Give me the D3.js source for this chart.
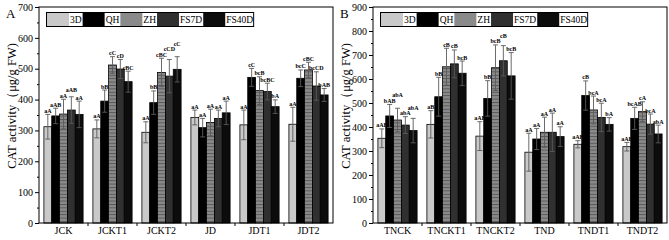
<!DOCTYPE html>
<html>
<head>
<meta charset="utf-8">
<script src="https://cdn.jsdelivr.net/npm/d3@7"></script>
<style>
  body { margin: 0; background: #fff; }
  svg { display: block; font-family: "Liberation Serif", "DejaVu Serif", serif; }
</style>
</head>
<body>
<svg width="669" height="240"></svg>
<script>
// Series names shared by both panels
var series = ['3D', 'QH', 'ZH', 'FS7D', 'FS40D'];
var seriesColor = ['#c9c9c9', '#000000', '#8a8a8a', '#303030', '#0c0c0c'];

// Panel A
var catsA = ['JCK', 'JCKT1', 'JCKT2', 'JD', 'JDT1', 'JDT2'];
var meanA = [
    [312, 347, 353, 366, 352],
    [305, 395, 512, 499, 458],
    [294, 390, 488, 476, 498],
    [342, 309, 326, 339, 357],
    [318, 472, 429, 426, 377],
    [320, 469, 496, 444, 415]
];
var errA = [
    [40, 25, 48, 43, 43],
    [29, 36, 27, 31, 34],
    [34, 38, 46, 54, 41],
    [24, 30, 43, 27, 38],
    [48, 29, 45, 27, 22],
    [55, 27, 25, 46, 21]
];
var sigA = [
    ['aA', 'aAB', 'aA', 'aAB', 'aA'],
    ['aA', 'bB', 'cC', 'cD', 'cBC'],
    ['aA', 'bB', 'cBC', 'cCD', 'cC'],
    ['aA', 'aA', 'aA', 'aA', 'aA'],
    ['aA', 'cC', 'bcB', 'bcBC', 'bA'],
    ['aA', 'bcC', 'cBC', 'bcCD', 'bAB']
];

// Panel B
var catsB = ['TNCK', 'TNCKT1', 'TNCKT2', 'TND', 'TNDT1', 'TNDT2'];
var meanB = [
    [353, 446, 429, 408, 385],
    [411, 526, 651, 663, 624],
    [362, 519, 647, 676, 613],
    [295, 350, 378, 378, 360],
    [328, 531, 471, 440, 411],
    [318, 436, 464, 412, 371]
];
var errB = [
    [39, 48, 49, 35, 51],
    [57, 81, 77, 58, 51],
    [60, 74, 95, 63, 97],
    [79, 44, 63, 80, 41],
    [15, 61, 58, 59, 28],
    [18, 46, 41, 42, 37]
];
var sigB = [
    ['aAB', 'bAB', 'abA', 'abA', 'abA'],
    ['aB', 'bB', 'cB', 'cB', 'bcB'],
    ['aAB', 'bB', 'bcB', 'cB', 'bcB'],
    ['aA', 'aA', 'aA', 'aA', 'aA'],
    ['aAB', 'cB', 'bcA', 'bcA', 'bA'],
    ['aAB', 'bcAB', 'cA', 'bcA', 'abA']
];

var svg = d3.select('svg');
var defs = svg.append('defs');

// horizontal stripe pattern for the ZH bars
var pat = defs.append('pattern')
    .attr('id', 'hatch')
    .attr('patternUnits', 'userSpaceOnUse')
    .attr('width', 8).attr('height', 3.4);
pat.append('rect').attr('width', 8).attr('height', 3.4).attr('fill', '#8a8a8a');
pat.append('line').attr('x1', 0).attr('x2', 8).attr('y1', 0.5).attr('y2', 0.5)
    .attr('stroke', '#4a4a4a').attr('stroke-width', 0.8);

function fillFor(i) {
    return i === 2 ? 'url(#hatch)' : seriesColor[i];
}

function drawPanel(opt) {
    var x0 = opt.left, x1 = opt.right, yTop = 7, yBot = 223;
    var g = svg.append('g');

    var xScale = d3.scaleBand()
        .domain(opt.cats)
        .range([x0, x1])
        .paddingInner(0.2)
        .paddingOuter(0.1);
    var xSub = d3.scaleBand()
        .domain(series)
        .range([0, xScale.bandwidth()]);
    var yScale = d3.scaleLinear()
        .domain([0, opt.max])
        .range([yBot, yTop]);

    // bars
    var groups = g.selectAll('.grp')
        .data(opt.cats)
        .enter().append('g')
        .attr('class', 'grp')
        .attr('transform', function(d) { return 'translate(' + xScale(d) + ',0)'; });

    groups.each(function(cat, ci) {
        var gg = d3.select(this);
        var rows = series.map(function(s, si) {
            return {s: s, si: si, v: opt.mean[ci][si], e: opt.err[ci][si], lab: opt.sig[ci][si]};
        });
        gg.selectAll('rect')
            .data(rows)
            .enter().append('rect')
            .attr('x', function(d) { return xSub(d.s); })
            .attr('y', function(d) { return yScale(d.v); })
            .attr('width', xSub.bandwidth())
            .attr('height', function(d) { return yBot - yScale(d.v); })
            .attr('fill', function(d) { return fillFor(d.si); })
            .attr('stroke', '#000')
            .attr('stroke-width', 0.8);

        // error bars
        var eb = gg.selectAll('.eb')
            .data(rows)
            .enter().append('g')
            .attr('class', 'eb')
            .attr('stroke', '#5a5a5a')
            .attr('stroke-width', 0.9);
        eb.append('line')
            .attr('x1', function(d) { return xSub(d.s) + xSub.bandwidth() / 2; })
            .attr('x2', function(d) { return xSub(d.s) + xSub.bandwidth() / 2; })
            .attr('y1', function(d) { return yScale(d.v - d.e); })
            .attr('y2', function(d) { return yScale(d.v + d.e); });
        [-1, 1].forEach(function(sign) {
            eb.append('line')
                .attr('x1', function(d) { return xSub(d.s) + xSub.bandwidth() / 2 - 2.5; })
                .attr('x2', function(d) { return xSub(d.s) + xSub.bandwidth() / 2 + 2.5; })
                .attr('y1', function(d) { return yScale(d.v + sign * d.e); })
                .attr('y2', function(d) { return yScale(d.v + sign * d.e); });
        });

        // significance letters, nudged up when they would collide with the previous one
        var labs = gg.selectAll('.sig')
            .data(rows)
            .enter().append('text')
            .attr('class', 'sig')
            .attr('x', function(d) { return xSub(d.s) + xSub.bandwidth() / 2; })
            .attr('y', function(d) { return yScale(d.v + d.e) - 1.5; })
            .attr('text-anchor', 'middle')
            .attr('font-size', 6)
            .attr('font-weight', 'bold')
            .text(function(d) { return d.lab; });
        var prev = null;
        labs.each(function() {
            var t = d3.select(this);
            var w = this.getComputedTextLength();
            var cx = +t.attr('x'), y = +t.attr('y');
            if (prev && cx - w / 2 < prev.r && Math.abs(y - prev.y) < 5.5) {
                y = Math.min(y, prev.y - 5.5);
                t.attr('y', y);
            }
            prev = {r: cx + w / 2, y: y};
        });
    });

    // frame
    g.append('rect')
        .attr('x', x0).attr('y', yTop)
        .attr('width', x1 - x0).attr('height', yBot - yTop)
        .attr('fill', 'none').attr('stroke', '#000').attr('stroke-width', 1);

    // y axis
    var yAxis = g.append('g')
        .attr('transform', 'translate(' + x0 + ',0)')
        .call(d3.axisLeft(yScale).ticks(opt.max / 100).tickSize(4).tickPadding(2));
    yAxis.select('.domain').remove();
    yAxis.selectAll('text').attr('font-size', 10).attr('font-family', 'Liberation Serif, serif');
    g.append('g')
        .attr('transform', 'translate(' + x0 + ',0)')
        .call(d3.axisLeft(yScale).tickValues(d3.range(50, opt.max, 100)).tickSize(2).tickFormat(''))
        .select('.domain').remove();

    // x axis labels, ticks between groups
    var xAxis = g.append('g')
        .attr('transform', 'translate(0,' + yBot + ')')
        .call(d3.axisBottom(xScale).tickSize(0).tickPadding(4));
    xAxis.select('.domain').remove();
    xAxis.selectAll('text').attr('font-size', 10).attr('font-family', 'Liberation Serif, serif');
    g.selectAll('.xt')
        .data(opt.cats.slice(1))
        .enter().append('line')
        .attr('x1', function(d) { return xScale(d) - xScale.step() * xScale.paddingInner() / 2; })
        .attr('x2', function(d) { return xScale(d) - xScale.step() * xScale.paddingInner() / 2; })
        .attr('y1', yBot).attr('y2', yBot + 3)
        .attr('stroke', '#000');

    // y label
    g.append('text')
        .attr('transform', 'translate(' + (opt.yLabX) + ',106) rotate(-90)')
        .attr('text-anchor', 'middle')
        .attr('font-size', 12.5)
        .text('CAT activity（μg/g FW)');

    // panel letter
    g.append('text')
        .attr('x', opt.letterX).attr('y', 18)
        .attr('font-size', 13)
        .text(opt.letter);

    // legend
    var lg = g.append('g').attr('transform', 'translate(' + (x0 + 8) + ',13)');
    var cx = 0;
    series.forEach(function(s, i) {
        lg.append('rect')
            .attr('x', cx).attr('y', 0)
            .attr('width', 22).attr('height', 13)
            .attr('fill', seriesColor[i]);
        var t = lg.append('text')
            .attr('x', cx + 23).attr('y', 10)
            .attr('font-size', 9.5)
            .text(s);
        cx += 23 + t.node().getComputedTextLength() + 1;
    });
    lg.insert('rect', ':first-child')
        .attr('x', -0.5).attr('y', -0.5)
        .attr('width', cx).attr('height', 14)
        .attr('fill', '#fff').attr('stroke', '#000').attr('stroke-width', 1);
}

drawPanel({left: 39, right: 333, max: 700, cats: catsA, mean: meanA, err: errA, sig: sigA,
    yLabX: 16, letter: 'A', letterX: 6});
drawPanel({left: 373, right: 667, max: 900, cats: catsB, mean: meanB, err: errB, sig: sigB,
    yLabX: 350, letter: 'B', letterX: 340});
</script>
</body>
</html>
